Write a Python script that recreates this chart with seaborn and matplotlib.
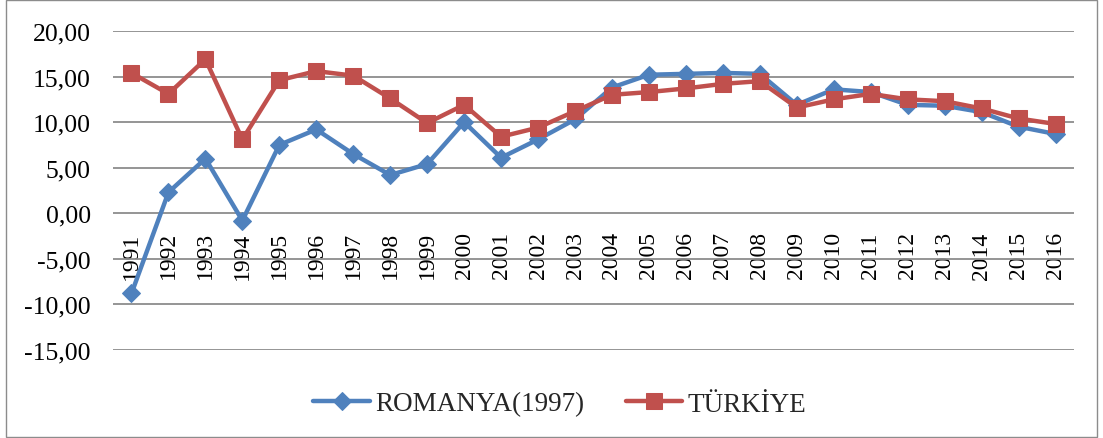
import matplotlib
matplotlib.use("Agg")
import matplotlib.pyplot as plt
import seaborn as sns
import pandas as pd
from matplotlib.patches import Rectangle
from matplotlib.ticker import FuncFormatter, FixedLocator

years = [str(y) for y in range(1991, 2017)]
romanya = [-8.8, 2.3, 6.0, -0.8, 7.5, 9.2, 6.5, 4.2, 5.4, 10.0, 6.1, 8.1, 10.3,
           13.8, 15.2, 15.3, 15.4, 15.3, 11.9, 13.6, 13.3, 11.9, 11.8, 11.1, 9.5, 8.7]
turkiye = [15.4, 13.1, 16.9, 8.1, 14.6, 15.6, 15.1, 12.6, 9.9, 11.9, 8.4, 9.4, 11.2,
           13.0, 13.3, 13.7, 14.2, 14.5, 11.6, 12.5, 13.1, 12.5, 12.3, 11.5, 10.4, 9.8]
series_names = ["ROMANYA(1997)", "TÜRKİYE"]
yticks = [-15, -10, -5, 0, 5, 10, 15, 20]

sns.set_theme(style="white")
plt.rcParams["font.family"] = ["Liberation Serif", "DejaVu Serif"]

fig = plt.figure(figsize=(11.03, 4.39), dpi=100)
ax = fig.add_axes([113/1103, 1-351/439, (1074-113)/1103, (351-32)/439])

pos = list(range(len(years)))
blue = "#4F81BD"
red = "#C0504D"

sns.lineplot(x=pos, y=romanya, ax=ax, color=blue, linewidth=3.2, marker="D",
             markersize=9, markeredgecolor=blue, label=series_names[0], zorder=3)
sns.lineplot(x=pos, y=turkiye, ax=ax, color=red, linewidth=3.2, marker="s",
             markersize=11.5, markeredgecolor=red, label=series_names[1], zorder=4)

ax.set_xlim(-0.5, len(years) - 0.5)
ax.set_ylim(-15, 20)
ax.yaxis.set_major_locator(FixedLocator(yticks))
ax.yaxis.set_major_formatter(FuncFormatter(lambda v, p: f"{v:.2f}".replace(".", ",")))
for yv in yticks:
    ax.axhline(yv, color="#8C8C8C", linewidth=1.3, zorder=1)

for s in ["top", "right", "left"]:
    ax.spines[s].set_visible(False)
ax.spines["bottom"].set_position(("data", 0))
ax.spines["bottom"].set_visible(False)
ax.set_xticks(pos)
ax.set_xticklabels(years, rotation=90, va="top", ha="center")
ax.tick_params(axis="x", length=0, pad=13, labelsize=17, colors="black")
ax.tick_params(axis="y", length=0, pad=16, labelsize=18.5, colors="black")
ax.grid(False)
ax.set_xlabel("")
ax.set_ylabel("")

ax.legend_.remove()
handles, labels = ax.get_legend_handles_labels()
fig.legend(handles, labels, loc="center", bbox_to_anchor=(560/1103, 1-405/439),
           ncol=2, frameon=False, fontsize=19.5, handlelength=2.1, handletextpad=0.2,
           columnspacing=1.5)

fig.patches.append(Rectangle((6/1103, 1/439), 1091/1103, 437/439, transform=fig.transFigure,
                             fill=False, edgecolor="#8C8C8C", linewidth=1.0))

fig.savefig("out.png", dpi=100)
